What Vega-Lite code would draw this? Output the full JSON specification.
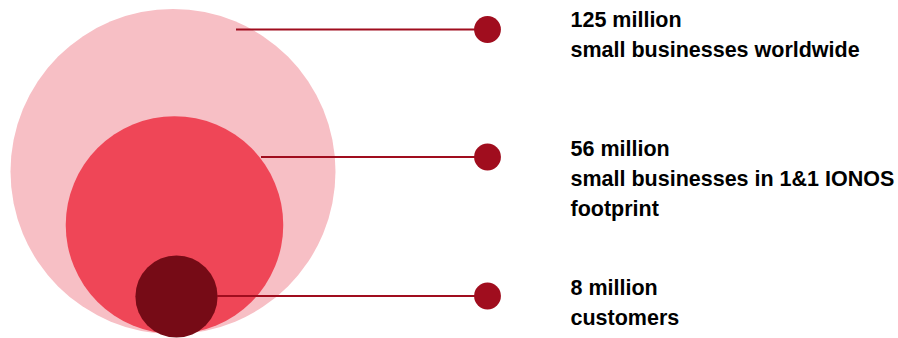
{
  "$schema": "https://vega.github.io/schema/vega-lite/v6.json",
  "width": 898,
  "height": 338,
  "padding": 0,
  "autosize": {"type": "fit", "contains": "padding"},
  "background": "white",
  "config": {"view": {"stroke": null}},
  "data": {
    "values": [
      {"tier": "worldwide", "value": 125, "cx": 173, "cy": 171.5, "lx0": 236, "ly": 29.5, "tx": 570.5, "ty": 26.7, "lines": ["125 million", "small businesses worldwide"]},
      {"tier": "footprint", "value": 56, "cx": 174.5, "cy": 225, "lx0": 261, "ly": 157, "tx": 570.5, "ty": 156, "lines": ["56 million", "small businesses in 1&1 IONOS", "footprint"]},
      {"tier": "customers", "value": 8, "cx": 176.5, "cy": 296.5, "lx0": 217, "ly": 296, "tx": 570.5, "ty": 295, "lines": ["8 million", "customers"]}
    ]
  },
  "encoding": {},
  "layer": [
    {
      "mark": {"type": "circle", "opacity": 1, "strokeWidth": 0},
      "encoding": {
        "x": {"field": "cx", "type": "quantitative", "scale": {"domain": [0, 898], "nice": false, "zero": false}, "axis": null},
        "y": {"field": "cy", "type": "quantitative", "scale": {"domain": [338, 0], "nice": false, "zero": false}, "axis": null},
        "size": {"field": "value", "type": "quantitative", "scale": {"type": "linear", "domain": [0, 125], "range": [0, 105625]}, "legend": null},
        "color": {"field": "tier", "type": "nominal", "scale": {"domain": ["worldwide", "footprint", "customers"], "range": ["#f7bfc5", "#ef4657", "#760b16"]}, "legend": null}
      }
    },
    {
      "mark": {"type": "rule", "color": "#a00d1e", "strokeWidth": 2},
      "encoding": {
        "x": {"field": "lx0", "type": "quantitative"},
        "x2": {"datum": 487.5},
        "y": {"field": "ly", "type": "quantitative"}
      }
    },
    {
      "mark": {"type": "circle", "opacity": 1, "color": "#a00d1e", "size": 720},
      "encoding": {
        "x": {"datum": 487.5, "type": "quantitative"},
        "y": {"field": "ly", "type": "quantitative"}
      }
    },
    {
      "mark": {"type": "text", "align": "left", "baseline": "alphabetic", "font": "Liberation Sans", "fontWeight": "bold", "fontSize": 21.5, "lineHeight": 30, "color": "#000000"},
      "encoding": {
        "x": {"field": "tx", "type": "quantitative"},
        "y": {"field": "ty", "type": "quantitative"},
        "text": {"field": "lines"}
      }
    }
  ]
}
